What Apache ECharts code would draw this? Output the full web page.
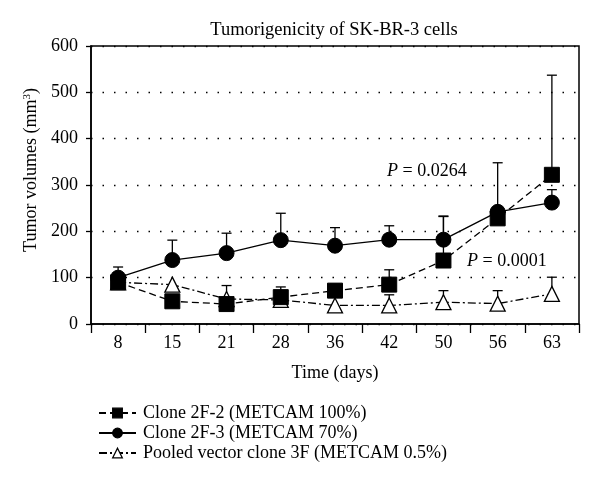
<!DOCTYPE html>
<html><head><meta charset="utf-8">
<script src="https://cdn.jsdelivr.net/npm/echarts@6/dist/echarts.min.js"></script>
<style>html,body{margin:0;padding:0;background:#fff}#c{width:600px;height:492px}</style>
</head><body><div id="c"></div>
<script>
var days = ['8','15','21','28','36','42','50','56','63'];
var clone22 = [90, 49, 43, 58, 72, 85, 137, 228, 322];
var clone22Err = [null, null, null, 80, 86, 117, 232, 348, 537];
var clone23 = [100, 138, 153, 181, 169, 182, 182, 242, 262];
var clone23Err = [123, 181, 196, 239, 208, 212, 233, null, 290];
var vector3F = [90, 85, 54, 52, 40, 40, 47, 44, 65];
var vector3FErr = [null, null, 83, null, null, 63, 72, 72, 101];
var yTicks = [0, 100, 200, 300, 400, 500, 600];
var names = ['Clone 2F-2 (METCAM 100%)', 'Clone 2F-3 (METCAM 70%)', 'Pooled vector clone 3F (METCAM 0.5%)'];

var FONT = 'Liberation Serif';
function errData(vals, errs) {
  var out = [];
  for (var i = 0; i < vals.length; i++) if (errs[i] != null) out.push([i, vals[i], errs[i]]);
  return out;
}
function errSeries(vals, errs) {
  return {
    type: 'custom', silent: true, z: 1,
    data: errData(vals, errs),
    renderItem: function (params, api) {
      var p0 = api.coord([api.value(0), api.value(1)]);
      var p1 = api.coord([api.value(0), api.value(2)]);
      var st = { stroke: '#000', lineWidth: 1.3 };
      return { type: 'group', children: [
        { type: 'line', shape: { x1: p0[0], y1: p0[1], x2: p1[0], y2: p1[1] }, style: st },
        { type: 'line', shape: { x1: p1[0] - 5, y1: p1[1], x2: p1[0] + 5, y2: p1[1] }, style: st }
      ]};
    }
  };
}
var chart = echarts.init(document.getElementById('c'));
chart.setOption({
  animation: false,
  backgroundColor: '#fff',
  textStyle: { fontFamily: FONT },
  title: { text: 'Tumorigenicity of SK-BR-3 cells', left: 329, textAlign: 'center', top: 16,
    textStyle: { fontFamily: FONT, fontWeight: 'normal', fontSize: 18.5, color: '#000' } },
  grid: { left: 91, right: 21, top: 46, bottom: 168, show: true, borderColor: '#000', borderWidth: 1.5 },
  xAxis: {
    type: 'category', data: days, boundaryGap: true,
    name: 'Time (days)', nameLocation: 'middle', nameGap: 40,
    nameTextStyle: { fontFamily: FONT, fontSize: 18, color: '#000' },
    axisLine: { lineStyle: { color: '#000', width: 1.5 } },
    axisTick: { show: true, inside: false, length: 9, lineStyle: { color: '#000', width: 1.3 } },
    axisLabel: { fontFamily: FONT, fontSize: 18, color: '#000', margin: 10 },
    splitLine: { show: false }
  },
  yAxis: {
    type: 'value', min: 0, max: 600, interval: 100,
    name: 'Tumor volumes (mm{sup|3})', nameLocation: 'middle', nameGap: 50,
    nameTextStyle: { fontFamily: FONT, fontSize: 18, color: '#000', padding: [0, 0, 0, 30],
      rich: { sup: { fontFamily: FONT, fontSize: 11, verticalAlign: 'top', padding: [0, 0, 8, 0] } } },
    axisLine: { show: true, lineStyle: { color: '#000', width: 1.5 } },
    axisTick: { show: true, length: 5, lineStyle: { color: '#000', width: 1.3 } },
    axisLabel: { fontFamily: FONT, fontSize: 18, color: '#000', margin: 13 },
    splitLine: { show: true, lineStyle: { color: '#000', type: [1.5, 10], width: 1.3 } }
  },
  legend: {
    orient: 'vertical', left: 93, top: 399, itemGap: 2, itemWidth: 37, itemHeight: 12,
    itemStyle: { borderWidth: 1.3 },
    textStyle: { fontFamily: FONT, fontSize: 18, lineHeight: 17, color: '#000', padding: [0, 0, 0, 2] },
    data: names
  },
  graphic: [
    { type: 'text', left: 387, top: 162, style: { text: '{i|P} = 0.0264', font: '18px "Liberation Serif"', fill: '#000',
      rich: { i: { fontStyle: 'italic', fontFamily: FONT, fontSize: 18 } } } },
    { type: 'text', left: 467, top: 252, style: { text: '{i|P} = 0.0001', font: '18px "Liberation Serif"', fill: '#000',
      rich: { i: { fontStyle: 'italic', fontFamily: FONT, fontSize: 18 } } } }
  ],
  series: [
    errSeries(clone22, clone22Err),
    errSeries(clone23, clone23Err),
    errSeries(vector3F, vector3FErr),
    { name: names[2], type: 'line', data: vector3F, z: 3, symbol: 'triangle', symbolSize: 15,
      itemStyle: { color: '#fff', borderColor: '#000', borderWidth: 1.3 },
      lineStyle: { color: '#000', width: 1.3, type: [8, 3, 2, 3] } },
    { name: names[0], type: 'line', data: clone22, z: 4, symbol: 'rect', symbolSize: 15,
      itemStyle: { color: '#000', borderColor: '#000' },
      lineStyle: { color: '#000', width: 1.3, type: [7, 4] } },
    { name: names[1], type: 'line', data: clone23, z: 5, symbol: 'circle', symbolSize: 15,
      itemStyle: { color: '#000', borderColor: '#000' },
      lineStyle: { color: '#000', width: 1.3, type: 'solid' } }
  ]
});
</script></body></html>
